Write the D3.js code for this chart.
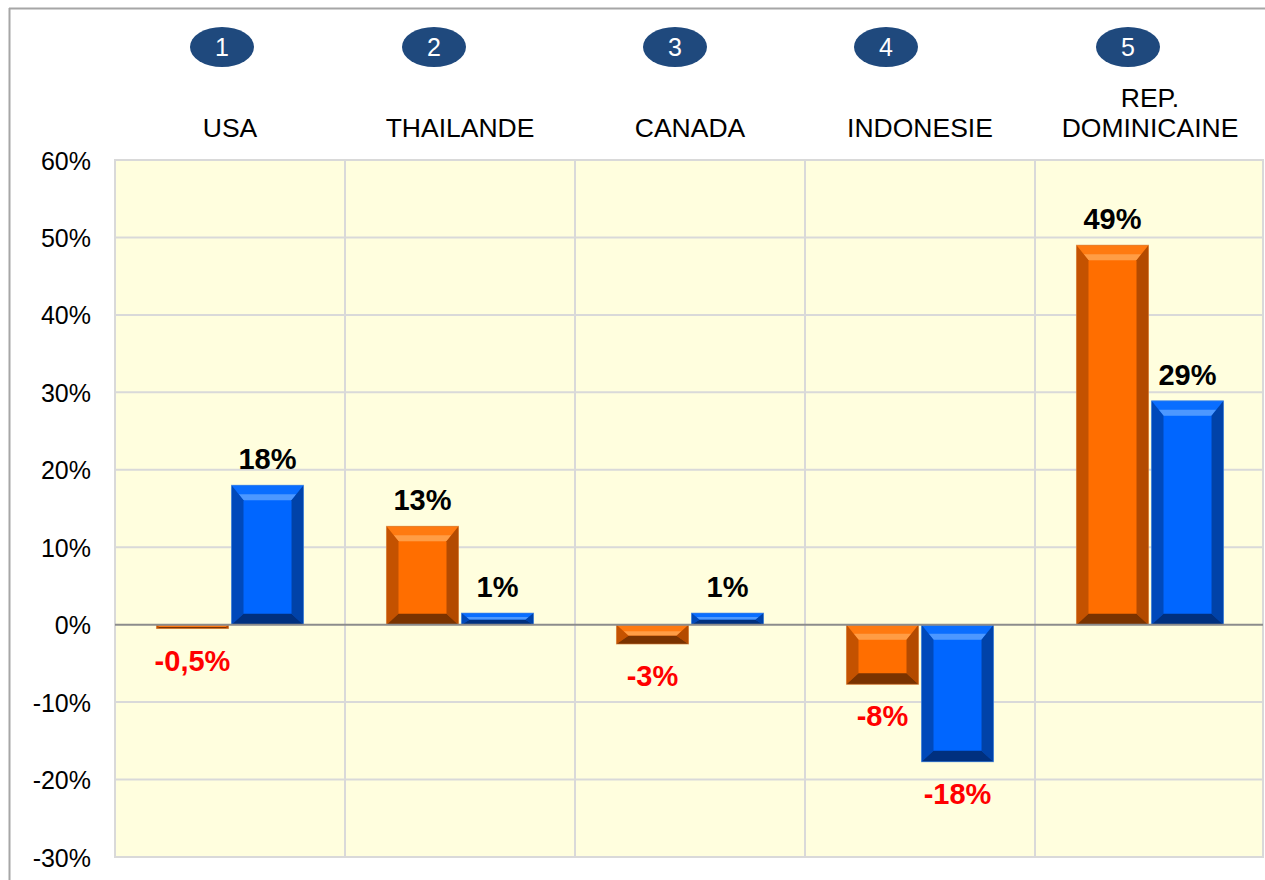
<!DOCTYPE html>
<html><head><meta charset="utf-8">
<script src="https://cdn.jsdelivr.net/npm/d3@7"></script>
<style>html,body{margin:0;padding:0;background:#fff;}svg{display:block;}</style>
</head><body>
<script>
const categories = ["USA", "THAILANDE", "CANADA", "INDONESIE", "REP. DOMINICAINE"];
const ranks = ["1", "2", "3", "4", "5"];
const seriesA = [-0.5, 12.7, -2.5, -7.7, 49];
const seriesB = [18, 1.5, 1.5, -17.7, 28.9];
const labelsA = ["-0,5%", "13%", "-3%", "-8%", "49%"];
const labelsB = ["18%", "1%", "1%", "-18%", "29%"];
const yTicks = [-30, -20, -10, 0, 10, 20, 30, 40, 50, 60];

(function () {
const W = 1265, H = 880;
const svg = d3.select("body").append("svg").attr("width", W).attr("height", H);

// outer frame
svg.append("line").attr("x1", 9).attr("x2", W).attr("y1", 8.5).attr("y2", 8.5).attr("stroke", "#a6a6a6").attr("stroke-width", 2);
svg.append("line").attr("x1", 9.5).attr("x2", 9.5).attr("y1", 8).attr("y2", H).attr("stroke", "#a6a6a6").attr("stroke-width", 2);

const pL = 115, pR = 1263, pT = 160, pB = 857;
const x = d3.scaleBand().domain(categories).range([pL, pL + 5 * 230]).paddingInner(0).paddingOuter(0);
const x1 = d3.scaleBand().domain(["A", "B"]).range([0, x.bandwidth()]).paddingInner(0.04).paddingOuter(0.553);
const y = d3.scaleLinear().domain([-30, 60]).range([pB, pT]);

svg.append("rect").attr("x", pL).attr("y", pT).attr("width", pR - pL).attr("height", pB - pT)
  .attr("fill", "#FFFEDE").attr("stroke", "#d9d9d9").attr("stroke-width", 2);

// grid
svg.append("g").selectAll("line").data(yTicks.filter(d => d !== 0 && d !== 60 && d !== -30)).join("line")
  .attr("x1", pL).attr("x2", pR).attr("y1", d => y(d)).attr("y2", d => y(d))
  .attr("stroke", "#d9d9d9").attr("stroke-width", 2);
svg.append("g").selectAll("line").data(categories.slice(1)).join("line")
  .attr("x1", d => x(d)).attr("x2", d => x(d)).attr("y1", pT).attr("y2", pB)
  .attr("stroke", "#d9d9d9").attr("stroke-width", 2);

// y tick labels
const yAxis = d3.axisLeft(y).tickValues(yTicks).tickFormat(d => d + "%").tickSize(0).tickPadding(0);
const ga = svg.append("g").attr("transform", `translate(91,0)`).call(yAxis);
ga.select(".domain").remove();
ga.selectAll("text").attr("font-family", "Liberation Sans, Arial, sans-serif").attr("font-size", 25).attr("fill", "#000").attr("dy", "0.36em");

// bars with bevel
const pal = {
  A: {main: "#FF6E00", top: "#FF7A10", hl: "#FF9D45", side: "#C45200", side2: "#B34A00", bot: "#7A3300", stroke: "#d08040"},
  B: {main: "#0066FF", top: "#0A6EFF", hl: "#4D98FF", side: "#0049BA", side2: "#0042A8", bot: "#00307F", stroke: "#4d8ad8"}
};
function drawBar(g, bx, bw, v, c) {
  const y0 = y(Math.max(0, v)), y1 = y(Math.min(0, v));
  const h = y1 - y0;
  let dt = 15, db = 11;
  if (dt + db > h) { const k = h / (dt + db); dt *= k; db *= k; }
  const ds = Math.min(12, Math.max(dt, db) * 1.2);
  const X0 = bx, X1 = bx + bw, Y0 = y0, Y1 = y1;
  const poly = pts => pts.map(p => p.join(",")).join(" ");
  g.append("rect").attr("x", X0).attr("y", Y0).attr("width", bw).attr("height", h).attr("fill", c.main);
  g.append("polygon").attr("points", poly([[X0, Y0], [X1, Y0], [X1 - ds, Y0 + dt], [X0 + ds, Y0 + dt]])).attr("fill", c.top);
  if (dt > 6) {
    const f = 0.6;
    g.append("polygon").attr("points", poly([[X0 + ds * f, Y0 + dt * f], [X1 - ds * f, Y0 + dt * f], [X1 - ds, Y0 + dt], [X0 + ds, Y0 + dt]])).attr("fill", c.hl);
  }
  g.append("polygon").attr("points", poly([[X0, Y0], [X0 + ds, Y0 + dt], [X0 + ds, Y1 - db], [X0, Y1]])).attr("fill", c.side);
  g.append("polygon").attr("points", poly([[X1, Y0], [X1 - ds, Y0 + dt], [X1 - ds, Y1 - db], [X1, Y1]])).attr("fill", c.side2);
  g.append("polygon").attr("points", poly([[X0, Y1], [X1, Y1], [X1 - ds, Y1 - db], [X0 + ds, Y1 - db]])).attr("fill", c.bot);
  g.append("rect").attr("x", X0).attr("y", Y0).attr("width", bw).attr("height", h).attr("fill", "none").attr("stroke", c.stroke).attr("stroke-width", 1).attr("stroke-opacity", 0.6);
}
const barsG = svg.append("g");
categories.forEach((cat, i) => {
  drawBar(barsG, x(cat) + x1("A"), x1.bandwidth(), seriesA[i], pal.A);
  drawBar(barsG, x(cat) + x1("B"), x1.bandwidth(), seriesB[i], pal.B);
});

// zero line
svg.append("line").attr("x1", pL).attr("x2", pR).attr("y1", y(0)).attr("y2", y(0)).attr("stroke", "#8c8c8c").attr("stroke-width", 2);

// value labels
const lblG = svg.append("g").attr("font-family", "Liberation Sans, Arial, sans-serif").attr("font-weight", "bold").attr("font-size", 29).attr("text-anchor", "middle");
function addLabel(cx, v, t) {
  const neg = v < 0;
  lblG.append("text").attr("x", cx).attr("y", neg ? y(v) + 42 : y(v) - 16).attr("fill", neg ? "#FF0000" : "#000").text(t);
}
categories.forEach((cat, i) => {
  addLabel(x(cat) + x1("A") + x1.bandwidth() / 2, seriesA[i], labelsA[i]);
  addLabel(x(cat) + x1("B") + x1.bandwidth() / 2, seriesB[i], labelsB[i]);
});

// rank ellipses
const rankX = [222, 434, 675, 886, 1128];
const rg = svg.append("g");
ranks.forEach((r, i) => {
  rg.append("ellipse").attr("cx", rankX[i]).attr("cy", 47).attr("rx", 32).attr("ry", 20).attr("fill", "#1F497D");
  rg.append("text").attr("x", rankX[i]).attr("y", 47).attr("dy", "0.36em").attr("text-anchor", "middle")
    .attr("font-family", "Liberation Sans, Arial, sans-serif").attr("font-size", 25).attr("fill", "#fff").text(r);
});

// category labels
const cg = svg.append("g").attr("font-family", "Liberation Sans, Arial, sans-serif").attr("font-size", 26.5).attr("text-anchor", "middle").attr("fill", "#000");
categories.forEach(cat => {
  const parts = cat === "REP. DOMINICAINE" ? ["REP.", "DOMINICAINE"] : [cat];
  parts.forEach((p, j) => {
    cg.append("text").attr("x", x(cat) + x.bandwidth() / 2).attr("y", 137 - (parts.length - 1 - j) * 30).text(p);
  });
});
})();
</script>
</body></html>
